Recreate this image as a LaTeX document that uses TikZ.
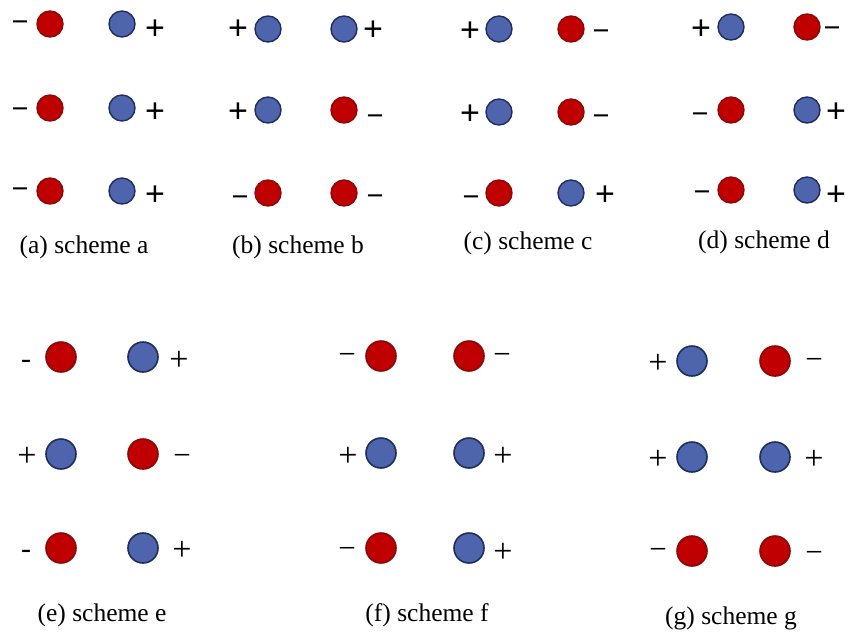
\documentclass[tikz,border=0pt]{standalone}
\usepackage{fontspec}
\setmainfont{Liberation Serif}
\newfontfamily\chsans{Liberation Sans}
\definecolor{chred}{HTML}{C00000}
\definecolor{chredline}{HTML}{8A0A0A}
\definecolor{chblue}{HTML}{4E65AE}
\definecolor{chblueline}{HTML}{1F2E5C}
\tikzset{
  negchg/.style={circle,fill=chred,draw=chredline,line width=1.4pt,minimum size=26pt,inner sep=0pt},
  poschg/.style={circle,fill=chblue,draw=chblueline,line width=1.4pt,minimum size=26pt,inner sep=0pt},
  negbig/.style={negchg,minimum size=30pt,line width=1.6pt},
  posbig/.style={poschg,minimum size=30pt,line width=1.6pt},
  % sign glyphs, shifted so that the glyph itself sits on the given point
  sp/.style={inner sep=0pt,yshift=-3pt,font=\chsans\fontsize{34}{34}\selectfont},
  sm/.style={inner sep=0pt,yshift=-8pt,font=\chsans\fontsize{29}{29}\selectfont},
  rp/.style={inner sep=0pt,yshift=-2pt,font=\fontsize{34}{34}\selectfont},
  rm/.style={inner sep=0pt,yshift=-6pt,font=\fontsize{31}{31}\selectfont},
  rh/.style={inner sep=0pt,yshift=-5pt,font=\fontsize{30}{30}\selectfont},
  capt/.style={inner sep=0pt,font=\fontsize{25.5}{25.5}\selectfont}
}
\begin{document}
\begin{tikzpicture}[x=1pt,y=-1pt]
\useasboundingbox (0,0) rectangle (852,633);

% (a) scheme a
\node[negchg] (a1l) at (50,24) {};   \node[poschg] (a1r) at (122,24) {};
\node[negchg] (a2l) at (50,108) {};  \node[poschg] (a2r) at (122,108) {};
\node[negchg] (a3l) at (50,191) {};  \node[poschg] (a3r) at (122,191) {};
\node[sm] (a1ls) at (20,18) {−};  \node[sp] (a1rs) at (155,27) {+};
\node[sm] (a2ls) at (20,105) {−}; \node[sp] (a2rs) at (155,110) {+};
\node[sm] (a3ls) at (20,185) {−}; \node[sp] (a3rs) at (155,193) {+};
\node[capt] (capa) at (84,247) {(a) scheme a};

% (b) scheme b
\node[poschg] (b1l) at (268,29) {};  \node[poschg] (b1r) at (344,29) {};
\node[poschg] (b2l) at (268,110) {}; \node[negchg] (b2r) at (344,110) {};
\node[negchg] (b3l) at (268,193) {}; \node[negchg] (b3r) at (344,193) {};
\node[sp] (b1ls) at (238,27) {+};  \node[sp] (b1rs) at (373,28) {+};
\node[sp] (b2ls) at (238,110) {+}; \node[sm] (b2rs) at (375,112) {−};
\node[sm] (b3ls) at (240,193) {−}; \node[sm] (b3rs) at (375,192) {−};
\node[capt] (capb) at (298,247) {(b) scheme b};

% (c) scheme c
\node[poschg] (c1l) at (499,29) {};  \node[negchg] (c1r) at (571,29) {};
\node[poschg] (c2l) at (499,112) {}; \node[negchg] (c2r) at (571,112) {};
\node[negchg] (c3l) at (499,193) {}; \node[poschg] (c3r) at (571,193) {};
\node[sp] (c1ls) at (470,29) {+};  \node[sm] (c1rs) at (601,27) {−};
\node[sp] (c2ls) at (470,112) {+}; \node[sm] (c2rs) at (601,112) {−};
\node[sm] (c3ls) at (471,193) {−}; \node[sp] (c3rs) at (605,193) {+};
\node[capt] (capc) at (528,243) {(c) scheme c};

% (d) scheme d
\node[poschg] (d1l) at (731,27) {};  \node[negchg] (d1r) at (807,27) {};
\node[negchg] (d2l) at (731,110) {}; \node[poschg] (d2r) at (807,110) {};
\node[negchg] (d3l) at (731,190) {}; \node[poschg] (d3r) at (807,190) {};
\node[sp] (d1ls) at (701,27) {+};  \node[sm] (d1rs) at (832,24) {−};
\node[sm] (d2ls) at (700,110) {−}; \node[sp] (d2rs) at (836,110) {+};
\node[sm] (d3ls) at (702,188) {−}; \node[sp] (d3rs) at (836,193) {+};
\node[capt] (capd) at (764,242) {(d) scheme d};

% (e) scheme e
\node[negbig] (e1l) at (61,357) {}; \node[posbig] (e1r) at (143,357) {};
\node[posbig] (e2l) at (61,454) {}; \node[negbig] (e2r) at (143,454) {};
\node[negbig] (e3l) at (61,548) {}; \node[posbig] (e3r) at (143,548) {};
\node[rh] (e1ls) at (26,359) {-};  \node[rp] (e1rs) at (179,359) {+};
\node[rp] (e2ls) at (27,455) {+}; \node[rm] (e2rs) at (182,454) {−};
\node[rh] (e3ls) at (26,549) {-};  \node[rp] (e3rs) at (182,549) {+};
\node[capt] (cape) at (102,615) {(e) scheme e};

% (f) scheme f
\node[negbig] (f1l) at (381,356) {}; \node[negbig] (f1r) at (469,356) {};
\node[posbig] (f2l) at (381,453) {}; \node[posbig] (f2r) at (469,453) {};
\node[negbig] (f3l) at (381,548) {}; \node[posbig] (f3r) at (469,548) {};
\node[rm] (f1ls) at (347,353) {−}; \node[rm] (f1rs) at (502,353) {−};
\node[rp] (f2ls) at (348,455) {+}; \node[rp] (f2rs) at (503,455) {+};
\node[rm] (f3ls) at (347,547) {−}; \node[rp] (f3rs) at (503,551) {+};
\node[capt] (capf) at (427,615) {(f) scheme f};

% (g) scheme g
\node[posbig] (g1l) at (692,361) {}; \node[negbig] (g1r) at (775,361) {};
\node[posbig] (g2l) at (692,457) {}; \node[posbig] (g2r) at (775,457) {};
\node[negbig] (g3l) at (692,551) {}; \node[negbig] (g3r) at (775,551) {};
\node[rp] (g1ls) at (658,362) {+}; \node[rm] (g1rs) at (814,358) {−};
\node[rp] (g2ls) at (658,458) {+}; \node[rp] (g2rs) at (814,458) {+};
\node[rm] (g3ls) at (658,548) {−}; \node[rm] (g3rs) at (814,551) {−};
\node[capt] (capg) at (731,618) {(g) scheme g};
\end{tikzpicture}
\end{document}
